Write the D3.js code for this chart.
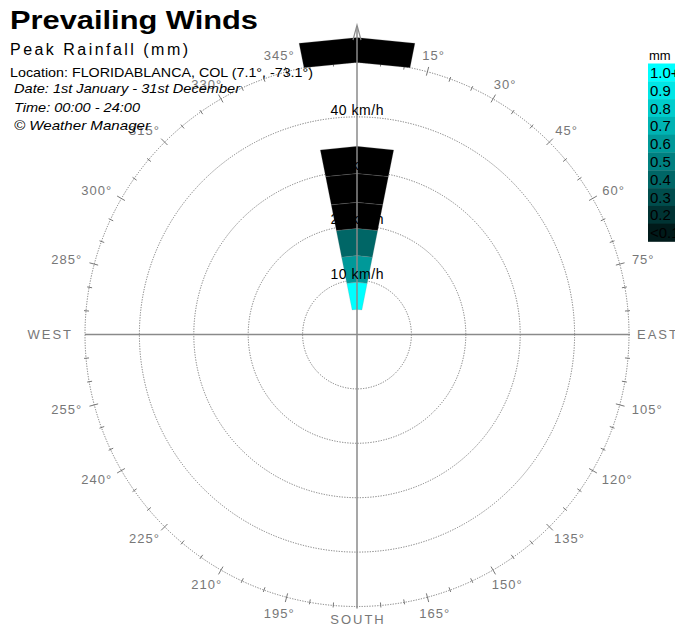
<!DOCTYPE html>
<html><head><meta charset="utf-8">
<script src="https://cdn.jsdelivr.net/npm/d3@7"></script>
<style>
html,body{margin:0;padding:0;background:#fff;}
svg{display:block;font-family:"Liberation Sans",Arial,sans-serif;}
</style></head>
<body>
<svg id="chart" width="675" height="626"></svg>
<script>
// ---- data ----
const ringSpeeds = [10, 20, 30, 40, 50];
const ringLabels = ["10 km/h", "20 km/h", "30 km/h", "40 km/h"];
const degreeLabels = [15, 30, 45, 60, 75, 105, 120, 135, 150, 165, 195, 210, 225, 240, 255, 285, 300, 315, 330, 345];
const compassLabels = ["EAST", "SOUTH", "WEST"];
// wind bar segments (direction, speed from, speed to, peak rainfall mm)
const segDirection = [0, 0, 0, 0, 0, 0, 0];
const segFrom = [4.6, 9.6, 14.5, 19.5, 24.3, 29.6, 50.0];
const segTo   = [9.6, 14.5, 19.5, 24.3, 29.6, 34.6, 54.6];
const segRain = [1.0, 0.6, 0.4, 0.0, 0.0, 0.0, 0.0];
const legendLabels = ["1.0+", "0.9", "0.8", "0.7", "0.6", "0.5", "0.4", "0.3", "0.2", "<0.1"];
const legendValues = [1.0, 0.9, 0.8, 0.7, 0.6, 0.5, 0.4, 0.3, 0.2, 0.1];
const titleLines = ["Prevailing Winds", "Peak Rainfall (mm)", "Location: FLORIDABLANCA, COL (7.1°, -73.1°)",
  "Date: 1st January - 31st December", "Time: 00:00 - 24:00", "© Weather Manager"];

// ---- setup ----
const svg = d3.select("#chart");
const cx = 357, cy = 334.5;
const r = d3.scaleLinear().domain([0, 50]).range([0, 272]);
const color = d3.scaleLinear().domain([0, 1]).range(["#000000", "#00ffff"]).clamp(true);
const rad = d => (d - 90) * Math.PI / 180;
const pt = (deg, rr) => [cx + rr * Math.cos(rad(deg)), cy + rr * Math.sin(rad(deg))];
const halfW = 11.25;
const grey = "#8a8a8a";

const g = svg.append("g");

// rings
g.selectAll("circle.ring").data(ringSpeeds).join("circle")
  .attr("cx", cx).attr("cy", cy).attr("r", d => r(d))
  .attr("fill", "none").attr("stroke", "#777").attr("stroke-width", 1)
  .attr("stroke-dasharray", "1.2,1.4");

// ticks on outer ring
const R = r(50);
const ticks = d3.range(0, 360, 5).filter(d => d % 90 !== 0);
g.selectAll("line.tick").data(ticks).join("line")
  .attr("x1", d => pt(d, R - (d % 15 === 0 ? 4 : 3))[0])
  .attr("y1", d => pt(d, R - (d % 15 === 0 ? 4 : 3))[1])
  .attr("x2", d => pt(d, R + (d % 15 === 0 ? 5 : 2))[0])
  .attr("y2", d => pt(d, R + (d % 15 === 0 ? 5 : 2))[1])
  .attr("stroke", "#777").attr("stroke-width", 1);

// degree labels
const dl = g.selectAll("text.deg").data(degreeLabels).join("text")
  .attr("font-size", 13).attr("letter-spacing", 1).attr("fill", "#777")
  .attr("text-anchor", "middle").attr("dominant-baseline", "central")
  .text(d => d + "°");
dl.each(function(d) {
  const w = this.getComputedTextLength();
  const p = pt(d, 285);
  const s = Math.sin(d * Math.PI / 180), c = Math.cos(d * Math.PI / 180);
  d3.select(this).attr("x", p[0] + s * w / 2).attr("y", p[1] - c * 4);
});

// bars
const segs = segDirection.map((d, i) => ({dir: d, from: segFrom[i], to: segTo[i], rain: segRain[i]}));
g.selectAll("path.seg").data(segs).join("path")
  .attr("d", s => {
    const a = [pt(s.dir - halfW, r(s.from)), pt(s.dir, r(s.from)), pt(s.dir + halfW, r(s.from)),
               pt(s.dir + halfW, r(s.to)), pt(s.dir, r(s.to)), pt(s.dir - halfW, r(s.to))];
    return "M" + a.map(p => p.join(",")).join("L") + "Z";
  })
  .attr("fill", s => color(s.rain))
  .attr("stroke", "rgba(140,140,140,0.35)").attr("stroke-width", 0.6);

// axis lines
g.append("line").attr("x1", cx).attr("x2", cx).attr("y1", 26).attr("y2", cy + R + 2)
  .attr("stroke", grey).attr("stroke-width", 1.5);
g.append("line").attr("x1", cx - R).attr("x2", cx + R + 1).attr("y1", cy).attr("y2", cy)
  .attr("stroke", grey).attr("stroke-width", 1.5);
g.append("path").attr("d", `M${cx - 4},${40} L${cx},${25} L${cx + 4},${40}`)
  .attr("fill", "none").attr("stroke", grey).attr("stroke-width", 1.2);

// ring labels
g.selectAll("text.rl").data(ringLabels).join("text")
  .attr("x", cx).attr("y", (d, i) => cy - r(ringSpeeds[i]) - 1.5)
  .attr("text-anchor", "middle").attr("font-size", 14).attr("fill", "#000")
  .attr("textLength", 53).attr("lengthAdjust", "spacing")
  .text(d => d);

// compass labels
const cl = g.append("g").attr("fill", "#777").attr("font-size", 13).attr("letter-spacing", 2);
cl.append("text").attr("x", cx + R + 8).attr("y", cy).attr("dominant-baseline", "central").text(compassLabels[0]);
cl.append("text").attr("x", cx + 1).attr("y", 624).attr("text-anchor", "middle").text(compassLabels[1]);
cl.append("text").attr("x", cx - R - 12).attr("y", cy).attr("text-anchor", "end").attr("dominant-baseline", "central").text(compassLabels[2]);

// titles
const tl = svg.append("g");
tl.append("text").attr("x", 10).attr("y", 29).attr("font-size", 26).attr("font-weight", "bold")
  .attr("textLength", 248).attr("lengthAdjust", "spacingAndGlyphs").text(titleLines[0]);
tl.append("text").attr("x", 10).attr("y", 55).attr("font-size", 16)
  .attr("textLength", 178).attr("lengthAdjust", "spacing").text(titleLines[1]);
tl.append("text").attr("x", 10).attr("y", 77).attr("font-size", 13)
  .attr("textLength", 303).attr("lengthAdjust", "spacingAndGlyphs").text(titleLines[2]);
const itl = [[93, 226], [112, 126], [130, 136]];
itl.forEach((v, i) => {
  tl.append("text").attr("x", 14).attr("y", v[0]).attr("font-size", 13).attr("font-style", "italic")
    .attr("textLength", v[1]).attr("lengthAdjust", "spacingAndGlyphs").text(titleLines[3 + i]);
});

// legend
const lg = svg.append("g");
const ly = d3.scaleBand().domain(legendLabels).range([63.5, 241.5]);
lg.append("text").attr("x", 649).attr("y", 60).attr("font-size", 13).text("mm");
lg.selectAll("rect").data(legendLabels).join("rect")
  .attr("x", 648).attr("y", d => ly(d)).attr("width", 40).attr("height", ly.bandwidth() + 0.3)
  .attr("fill", (d, i) => color(legendValues[i]));
lg.selectAll("text.lv").data(legendLabels).join("text")
  .attr("x", 650).attr("y", d => ly(d) + ly.bandwidth() / 2).attr("dominant-baseline", "central")
  .attr("font-size", 15).attr("fill", "#000").text(d => d);
</script>
</body></html>
